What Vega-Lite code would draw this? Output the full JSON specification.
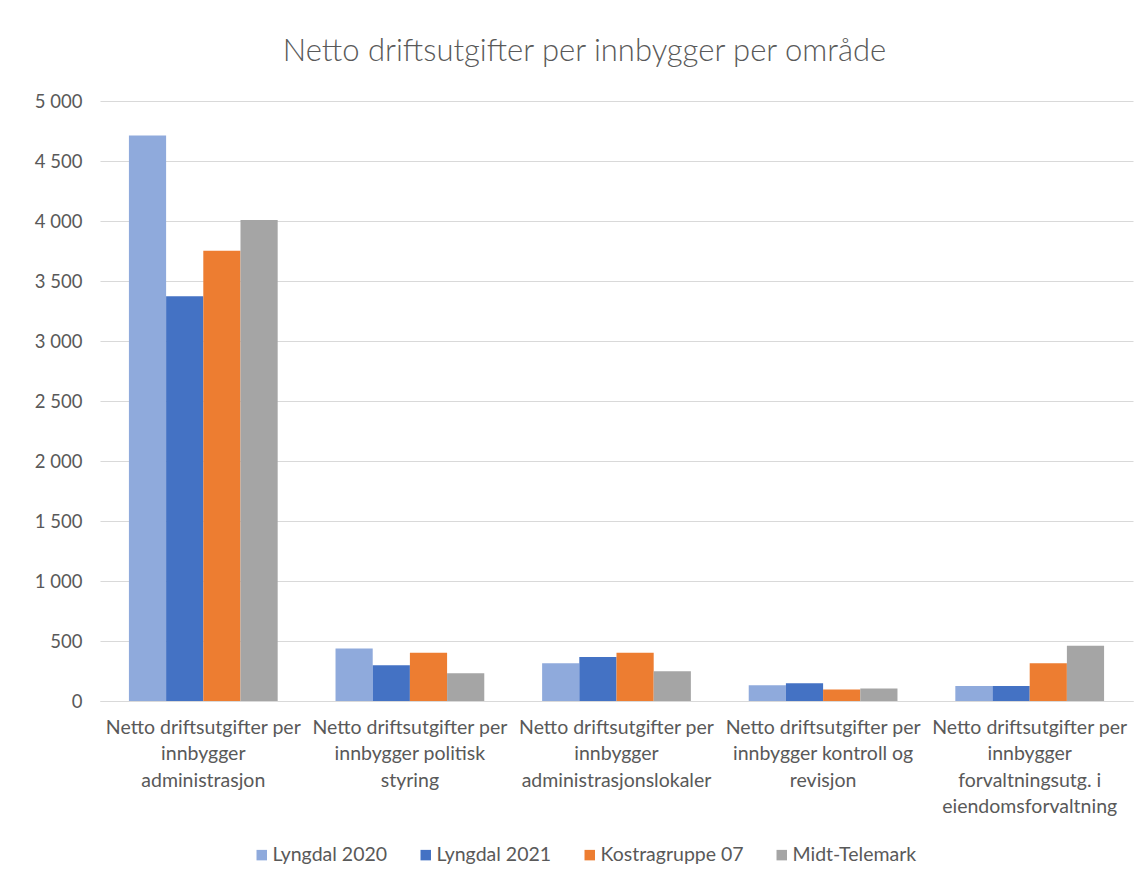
{
  "$schema": "https://vega.github.io/schema/vega-lite/v6.json",
  "autosize": "none",
  "width": 1033,
  "height": 600,
  "padding": {"left": 100, "top": 101, "right": 13, "bottom": 181},
  "background": "white",
  "title": {
    "text": "Netto driftsutgifter per innbygger per område",
    "fontSize": 31,
    "font": "Lato",
    "fontWeight": 300,
    "color": "#595959",
    "anchor": "middle",
    "offset": 24,
    "dx": -32
  },
  "data": {
    "values": [
      {"kategori": "Netto driftsutgifter per innbygger administrasjon", "serie": "Lyngdal 2020", "verdi": 4712},
      {"kategori": "Netto driftsutgifter per innbygger administrasjon", "serie": "Lyngdal 2021", "verdi": 3372},
      {"kategori": "Netto driftsutgifter per innbygger administrasjon", "serie": "Kostragruppe 07", "verdi": 3753},
      {"kategori": "Netto driftsutgifter per innbygger administrasjon", "serie": "Midt-Telemark", "verdi": 4008},
      {"kategori": "Netto driftsutgifter per innbygger politisk styring", "serie": "Lyngdal 2020", "verdi": 438},
      {"kategori": "Netto driftsutgifter per innbygger politisk styring", "serie": "Lyngdal 2021", "verdi": 298},
      {"kategori": "Netto driftsutgifter per innbygger politisk styring", "serie": "Kostragruppe 07", "verdi": 402},
      {"kategori": "Netto driftsutgifter per innbygger politisk styring", "serie": "Midt-Telemark", "verdi": 231},
      {"kategori": "Netto driftsutgifter per innbygger administrasjonslokaler", "serie": "Lyngdal 2020", "verdi": 315},
      {"kategori": "Netto driftsutgifter per innbygger administrasjonslokaler", "serie": "Lyngdal 2021", "verdi": 366},
      {"kategori": "Netto driftsutgifter per innbygger administrasjonslokaler", "serie": "Kostragruppe 07", "verdi": 402},
      {"kategori": "Netto driftsutgifter per innbygger administrasjonslokaler", "serie": "Midt-Telemark", "verdi": 248},
      {"kategori": "Netto driftsutgifter per innbygger kontroll og revisjon", "serie": "Lyngdal 2020", "verdi": 132},
      {"kategori": "Netto driftsutgifter per innbygger kontroll og revisjon", "serie": "Lyngdal 2021", "verdi": 147},
      {"kategori": "Netto driftsutgifter per innbygger kontroll og revisjon", "serie": "Kostragruppe 07", "verdi": 96},
      {"kategori": "Netto driftsutgifter per innbygger kontroll og revisjon", "serie": "Midt-Telemark", "verdi": 105},
      {"kategori": "Netto driftsutgifter per innbygger forvaltningsutg. i eiendomsforvaltning", "serie": "Lyngdal 2020", "verdi": 124},
      {"kategori": "Netto driftsutgifter per innbygger forvaltningsutg. i eiendomsforvaltning", "serie": "Lyngdal 2021", "verdi": 124},
      {"kategori": "Netto driftsutgifter per innbygger forvaltningsutg. i eiendomsforvaltning", "serie": "Kostragruppe 07", "verdi": 315},
      {"kategori": "Netto driftsutgifter per innbygger forvaltningsutg. i eiendomsforvaltning", "serie": "Midt-Telemark", "verdi": 461}
    ]
  },
  "mark": {"type": "bar"},
  "encoding": {
    "x": {
      "field": "kategori",
      "type": "nominal",
      "sort": null,
      "scale": {"paddingInner": 0.28, "paddingOuter": 0.14},
      "axis": {
        "title": null,
        "labelAngle": 0,
        "ticks": false,
        "domain": true,
        "domainColor": "#d9d9d9",
        "domainWidth": 1,
        "labelPadding": 17,
        "labelFontSize": 19.5,
        "labelLineHeight": 26.5,
        "labelLimit": 300,
        "labelBaseline": "top",
        "labelExpr": "datum.value == 'Netto driftsutgifter per innbygger administrasjon' ? ['Netto driftsutgifter per','innbygger','administrasjon'] : datum.value == 'Netto driftsutgifter per innbygger politisk styring' ? ['Netto driftsutgifter per','innbygger politisk','styring'] : datum.value == 'Netto driftsutgifter per innbygger administrasjonslokaler' ? ['Netto driftsutgifter per','innbygger','administrasjonslokaler'] : datum.value == 'Netto driftsutgifter per innbygger kontroll og revisjon' ? ['Netto driftsutgifter per','innbygger kontroll og','revisjon'] : ['Netto driftsutgifter per','innbygger','forvaltningsutg. i','eiendomsforvaltning']"
      }
    },
    "xOffset": {
      "field": "serie",
      "type": "nominal",
      "sort": ["Lyngdal 2020", "Lyngdal 2021", "Kostragruppe 07", "Midt-Telemark"],
      "scale": {"paddingInner": 0, "paddingOuter": 0}
    },
    "y": {
      "field": "verdi",
      "type": "quantitative",
      "scale": {"domain": [0, 5000], "nice": false},
      "axis": {
        "title": null,
        "values": [0, 500, 1000, 1500, 2000, 2500, 3000, 3500, 4000, 4500, 5000],
        "ticks": false,
        "domain": false,
        "grid": true,
        "gridColor": "#d9d9d9",
        "gridWidth": 1,
        "labelPadding": 18,
        "labelFontSize": 18.5,
        "labelExpr": "replace(format(datum.value, ','), ',', ' ')"
      }
    },
    "color": {
      "field": "serie",
      "type": "nominal",
      "sort": ["Lyngdal 2020", "Lyngdal 2021", "Kostragruppe 07", "Midt-Telemark"],
      "scale": {
        "domain": ["Lyngdal 2020", "Lyngdal 2021", "Kostragruppe 07", "Midt-Telemark"],
        "range": ["#8faadc", "#4472c4", "#ed7d31", "#a5a5a5"]
      },
      "legend": {
        "title": null,
        "orient": "none",
        "direction": "horizontal",
        "legendX": 152,
        "legendY": 744,
        "symbolType": "square",
        "symbolSize": 110,
        "symbolStrokeWidth": 0,
        "labelFontSize": 19.5,
        "labelOffset": 1,
        "columnPadding": 28,
        "labelLimit": 300
      }
    }
  },
  "config": {
    "font": "Lato",
    "view": {"stroke": null},
    "axis": {"labelColor": "#595959", "labelFont": "Lato"},
    "legend": {"labelColor": "#595959", "labelFont": "Lato"}
  }
}
